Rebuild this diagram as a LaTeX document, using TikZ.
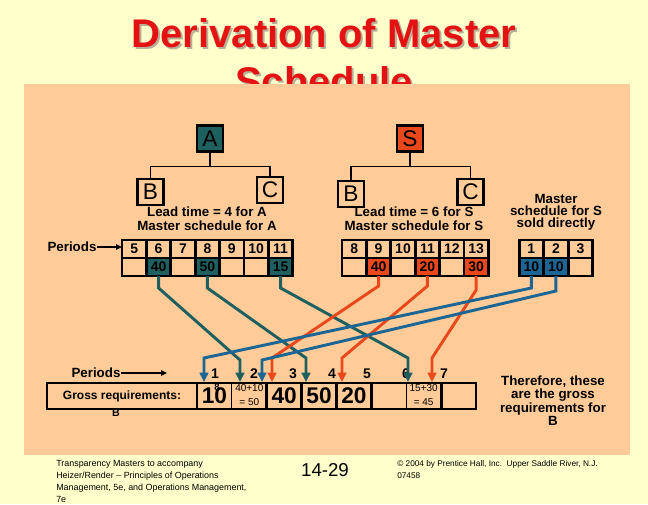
\documentclass[tikz,border=0pt]{standalone}
\usepackage{fontspec}
\setmainfont{Liberation Sans}
\usetikzlibrary{positioning}
\usetikzlibrary{arrows.meta}
\definecolor{cream}{RGB}{255,255,204}
\definecolor{peach}{RGB}{255,204,153}
\definecolor{tealc}{RGB}{30,95,95}
\definecolor{redc}{RGB}{232,72,28}
\definecolor{bluec}{RGB}{28,102,150}
\definecolor{titlered}{RGB}{228,18,18}
\definecolor{shade}{RGB}{185,175,150}
\tikzstyle{heading} = [anchor=base, inner sep=0pt, font=\bfseries\fontsize{30}{36}\selectfont]
\tikzstyle{letter} = [rectangle, draw=black, line width=2pt, minimum size=19.5pt, inner sep=0pt, font=\fontsize{17}{17}\selectfont]
\tikzstyle{cell} = [rectangle, draw=black, line width=2.2pt, minimum width=18.3pt, minimum height=13.5pt, inner sep=0pt, outer sep=0pt, font=\bfseries\fontsize{10.5}{10.5}\selectfont]
\tikzstyle{gcell} = [rectangle, minimum width=26.16pt, minimum height=19.5pt, inner sep=0pt, outer sep=0pt, font=\bfseries\fontsize{17}{17}\selectfont]
\tikzstyle{caption} = [align=center, inner sep=0pt, font=\bfseries\fontsize{10}{10.5}\selectfont]
\tikzstyle{plabel} = [inner sep=0pt, font=\bfseries\fontsize{10.5}{10.5}\selectfont]
\tikzstyle{footer} = [align=left, inner sep=0pt, font=\fontsize{6.7}{9}\selectfont]
\tikzstyle{flow} = [line width=2.2pt, -{Triangle[width=6.5pt,length=7pt]}]
\tikzstyle{pointer} = [line width=1.2pt, -{Triangle[width=4pt,length=4.5pt]}]
\newcommand{\twoline}[2]{\fontsize{7.5}{10.5}\mdseries\selectfont\begin{tabular}{@{}c@{}}#1\\#2\end{tabular}}

\begin{document}
\begin{tikzpicture}[x=0.75pt,y=-0.75pt]

        % Page and title
        \useasboundingbox[fill=cream] (0,0) rectangle (648,504);
        \node[heading, text=shade] (title1s) at (326,49) {Derivation of Master};
        \node[heading, text=shade] (title2s) at (326,97) {Schedule};
        \node[heading, text=titlered] (title1) at (324,47) {Derivation of Master};
        \node[heading, text=titlered] (title2) at (324,95) {Schedule};
        \fill[peach] (24,84) rectangle (630,455);

        % Product trees
        \node[letter, fill=tealc] (A) at (210,138.5) {A};
        \node[letter] (AB) at (150.5,192) {B};
        \node[letter] (AC) at (270,190) {C};
        \draw[line width=0.8pt] (A.south) -- ++(0,14) -| (AB.north);
        \draw[line width=0.8pt] (A.south) ++(0,14) -| (AC.north);

        \node[letter, fill=redc] (S) at (410,138.5) {S};
        \node[letter] (SB) at (351,194) {B};
        \node[letter] (SC) at (470.5,192) {C};
        \draw[line width=0.8pt] (S.south) -- ++(0,14) -| (SB.north);
        \draw[line width=0.8pt] (S.south) ++(0,14) -| (SC.north);

        \node[caption] (leadA) at (207,219) {Lead time = 4 for A\\Master schedule for A};
        \node[caption] (leadS) at (414,219) {Lead time = 6 for S\\Master schedule for S};
        \node[caption, font=\bfseries\fontsize{10}{9}\selectfont] (direct) at (556,212) {Master\\schedule for S\\sold directly};

        % Master schedules
        \node[plabel, font=\bfseries\fontsize{10}{10}\selectfont] (aper) at (72,247) {Periods};
        \foreach \p/\v/\c [count=\i] in {5//peach,6/40/tealc,7//peach,8/50/tealc,9//peach,10//peach,11/15/tealc} {
            \node[cell] (ap\p) at ({122+24.4*(\i-0.5)},249) {\p};
            \node[cell, fill=\c] (aq\p) at ({122+24.4*(\i-0.5)},267) {\v};
        }
        \draw[pointer] (aper.east) -- (aper.east -| ap5.west);

        \foreach \p/\v/\c [count=\i] in {8//peach,9/40/redc,10//peach,11/20/redc,12//peach,13/30/redc} {
            \node[cell] (sp\p) at ({342+24.4*(\i-0.5)},249) {\p};
            \node[cell, fill=\c] (sq\p) at ({342+24.4*(\i-0.5)},267) {\v};
        }

        \foreach \p/\v/\c [count=\i] in {1/10/bluec,2/10/bluec,3//peach} {
            \node[cell] (dp\p) at ({519+24.6*(\i-0.5)},249) {\p};
            \node[cell, fill=\c] (dq\p) at ({519+24.6*(\i-0.5)},267) {\v};
        }

        % Gross requirements of B
        \node[gcell, minimum width=112.5pt, font=\bfseries\fontsize{9}{9}\selectfont] (gl) at (122,396) {Gross requirements:};
        \node[plabel, font=\bfseries\fontsize{8}{8}\selectfont] (glb) at (116,413) {B};
        \foreach \v [count=\i] in {10,{\twoline{40+10}{= 50}},40,50,20,{},{\twoline{15+30}{= 45}},{}} {
            \node[gcell] (g\i) at ({197+34.875*(\i-0.5)},396) {\v};
        }
        \node[plabel, font=\bfseries\fontsize{7}{7}\selectfont] (g8small) at (217,387) {8};
        \draw[line width=2.2pt] (gl.north west) rectangle (g8.south east);
        \foreach \c in {gl,g2,g3,g4,g5,g7} \draw[line width=2.2pt] (\c.north east) -- (\c.south east);
        \foreach \c in {g1,g6} \draw[line width=0.8pt] (\c.north east) -- (\c.south east);

        \node[plabel, font=\bfseries\fontsize{10}{10}\selectfont] (gper) at (96,373) {Periods};
        \coordinate (gpend) at (167,373);
        \draw[pointer] (gper.east) -- (gpend);
        \foreach \p/\x in {1/215,2/254,3/293,4/332,5/367,6/406,7/444}
            \node[plabel] (gp\p) at (\x,374) {\p};

        % Connections
        \foreach \n/\x in {b1/204,t1/240,b2/262,o1/272,t2/306,o2/342,t3/408,o3/432}
            \coordinate (in\n) at (\x,382);
        \draw[flow, draw=tealc] (aq6.south) -- ++(0,12) -- (int1 |- 0,360) -- (int1);
        \draw[flow, draw=tealc] (aq8.south) -- ++(0,12) -- (int2 |- 0,358) -- (int2);
        \draw[flow, draw=tealc] (aq11.south) -- ++(0,12) -- (int3 |- 0,358) -- (int3);
        \draw[flow, draw=redc] (sq9.south) -- ++(0,10) -- (ino1 |- 0,358) -- (ino1);
        \draw[flow, draw=redc] (sq11.south) -- ++(0,10) -- (ino2 |- 0,358) -- (ino2);
        \draw[flow, draw=redc] (sq13.south) -- ++(0,14) -- (ino3 |- 0,358) -- (ino3);
        \draw[flow, draw=bluec] (dq1.south) -- ++(0,12) -- (inb1 |- 0,358) -- (inb1);
        \draw[flow, draw=bluec] (dq2.south) -- ++(0,15) -- (inb2 |- 0,360) -- (inb2);

        \node[caption, font=\bfseries\fontsize{10}{8.5}\selectfont] (therefore) at (553,401) {Therefore, these\\are the gross\\requirements for\\B};

        % Footer
        \node[footer, anchor=north west] (src) at (56,460) {Transparency Masters to accompany\\Heizer/Render -- Principles of Operations\\Management, 5e, and Operations Management,\\7e};
        \node[inner sep=0pt, font=\fontsize{14}{14}\selectfont] (slide) at (325,470) {14-29};
        \node[footer, anchor=north west, font=\fontsize{6.2}{9}\selectfont] (copy) at (397,460) {\textcopyright{} 2004 by Prentice Hall, Inc.\ \ Upper Saddle River, N.J.\\07458};

    \end{tikzpicture}
\end{document}
